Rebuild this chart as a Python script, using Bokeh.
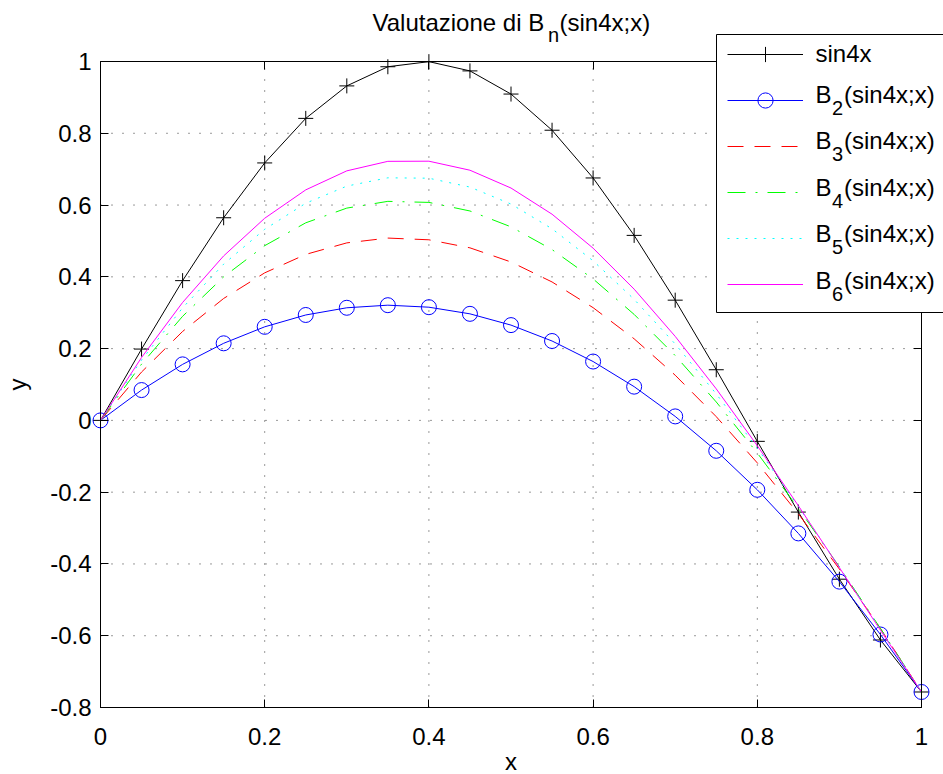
from bokeh.plotting import figure
from bokeh.models import (Range1d, LinearAxis, FixedTicker, Legend, LegendItem, Label, Grid,
                          BoxAnnotation)
from bokeh.embed import file_html
from bokeh.resources import INLINE

# ---------------- data ----------------
x_vals = [0.00, 0.05, 0.10, 0.15, 0.20, 0.25, 0.30, 0.35, 0.40, 0.45, 0.50,
          0.55, 0.60, 0.65, 0.70, 0.75, 0.80, 0.85, 0.90, 0.95, 1.00]
sin4x = [0.0000, 0.1987, 0.3894, 0.5646, 0.7174, 0.8415, 0.9320, 0.9854, 0.9996, 0.9738, 0.9093,
         0.8085, 0.6755, 0.5155, 0.3350, 0.1411, -0.0584, -0.2555, -0.4425, -0.6119, -0.7568]
b2 = [0.0000, 0.0845, 0.1561, 0.2148, 0.2607, 0.2937, 0.3138, 0.3210, 0.3154, 0.2969, 0.2655,
      0.2212, 0.1640, 0.0940, 0.0111, -0.0847, -0.1934, -0.3149, -0.4493, -0.5966, -0.7568]
b3 = [0.0000, 0.1347, 0.2478, 0.3397, 0.4111, 0.4625, 0.4946, 0.5080, 0.5032, 0.4808, 0.4414,
      0.3857, 0.3141, 0.2273, 0.1259, 0.0104, -0.1185, -0.2603, -0.4143, -0.5800, -0.7568]
b4 = [0.0000, 0.1567, 0.2900, 0.4000, 0.4868, 0.5505, 0.5915, 0.6103, 0.6074, 0.5835, 0.5393,
      0.4759, 0.3942, 0.2953, 0.1806, 0.0513, -0.0910, -0.2447, -0.4082, -0.5795, -0.7568]
b5 = [0.0000, 0.1683, 0.3136, 0.4353, 0.5325, 0.6051, 0.6528, 0.6759, 0.6748, 0.6501, 0.6028,
      0.5339, 0.4447, 0.3373, 0.2129, 0.0738, -0.0778, -0.2394, -0.4085, -0.5821, -0.7568]
b6 = [0.0000, 0.1752, 0.3286, 0.4583, 0.5632, 0.6423, 0.6953, 0.7218, 0.7222, 0.6971, 0.6474,
      0.5745, 0.4799, 0.3657, 0.2341, 0.0878, -0.0706, -0.2377, -0.4103, -0.5846, -0.7568]

x_ticks = [0, 0.2, 0.4, 0.6, 0.8, 1]
x_tick_labels = ["0", "0.2", "0.4", "0.6", "0.8", "1"]
y_ticks = [-0.8, -0.6, -0.4, -0.2, 0, 0.2, 0.4, 0.6, 0.8, 1]
y_tick_labels = ["-0.8", "-0.6", "-0.4", "-0.2", "0", "0.2", "0.4", "0.6", "0.8", "1"]

title_parts = ["Valutazione di B", "n", "(sin4x;x)"]
legend_main = ["sin4x", "B", "B", "B", "B", "B"]
legend_sub = ["", "2", "3", "4", "5", "6"]
legend_rest = ["", "(sin4x;x)", "(sin4x;x)", "(sin4x;x)", "(sin4x;x)", "(sin4x;x)"]

# ---------------- layout constants (pixels on the page) ----------------
FONT = "Liberation Sans"
FS = "24px"
SUBFS = "20px"
W, H = 943, 774
AX_L, AX_R, AX_T, AX_B = 100, 921, 61, 707      # visible axes box; the Bokeh frame is the whole canvas
X0, X1 = x_ticks[0], x_ticks[-1]
Y0, Y1 = y_ticks[0], y_ticks[-1]
px_x = (AX_R - AX_L) / (X1 - X0)
px_y = (AX_B - AX_T) / (Y1 - Y0)
TXT_DY = 8          # Label baseline correction (page px)
LEG_DY = 4          # legend row correction (page px)

p = figure(width=W, height=H, output_backend="svg", toolbar_location=None, title=None,
           x_range=Range1d(X0 - AX_L / px_x, X1 + (W - AX_R) / px_x),
           y_range=Range1d(Y0 - (H - AX_B) / px_y, Y1 + AX_T / px_y),
           x_axis_location=None, y_axis_location=None)
p.min_border = 0
p.min_border_left = 0
p.min_border_right = 0
p.min_border_top = 0
p.min_border_bottom = 0
p.background_fill_color = "white"
p.border_fill_color = "white"
p.outline_line_color = None
p.center = [r for r in p.center if not isinstance(r, Grid)]


def style_axis(ax, ticks, labels):
    ax.ticker = FixedTicker(ticks=ticks)
    ax.major_tick_in = 8
    ax.major_tick_out = 0
    ax.minor_tick_in = 0
    ax.minor_tick_out = 0
    ax.axis_line_color = "black"
    ax.axis_line_width = 1
    ax.major_tick_line_color = "black"
    ax.major_tick_line_width = 1
    ax.major_label_text_font = FONT
    ax.major_label_text_color = "black"
    ax.axis_label_text_font = FONT
    ax.axis_label_text_font_size = FS
    ax.axis_label_text_font_style = "normal"
    ax.axis_label_text_color = "black"
    if labels is None:
        ax.major_label_overrides = {v: "" for v in ticks}
        ax.major_label_text_font_size = "0px"
        ax.major_label_standoff = 0
    else:
        ax.major_label_overrides = {v: s for v, s in zip(ticks, labels)}
        ax.major_label_text_font_size = FS


bottom = LinearAxis(fixed_location=Y0, bounds=(X0, X1), axis_label="x")
style_axis(bottom, x_ticks, x_tick_labels)
bottom.major_label_standoff = 20
bottom.axis_label_standoff = 0
left = LinearAxis(fixed_location=X0, bounds=(Y0, Y1), axis_label="y")
style_axis(left, y_ticks, y_tick_labels)
left.major_label_standoff = 9
left.axis_label_standoff = 16
top = LinearAxis(fixed_location=Y1, bounds=(X0, X1))
style_axis(top, x_ticks, None)
right = LinearAxis(fixed_location=X1, bounds=(Y0, Y1))
style_axis(right, y_ticks, None)
p.add_layout(bottom, "below")
p.add_layout(left, "left")
p.add_layout(top, "above")
p.add_layout(right, "right")

# dotted grid, limited to the axes box
GRID = dict(line_color="black", line_dash="1 10", line_width=1, line_alpha=0.8, level="underlay")
p.segment(x0=x_ticks, y0=[Y0] * len(x_ticks), x1=x_ticks, y1=[Y1] * len(x_ticks), **GRID)
p.segment(x0=[X0] * len(y_ticks), y0=y_ticks, x1=[X1] * len(y_ticks), y1=y_ticks, **GRID)

# ---------------- series ----------------
r0l = p.line(x_vals, sin4x, line_color="black", line_width=1)
r0m = p.scatter(x_vals, sin4x, marker="cross", size=15, line_color="black", line_width=1)
r1l = p.line(x_vals, b2, line_color="#0000ff", line_width=1)
r1m = p.scatter(x_vals, b2, marker="circle", size=15, line_color="#0000ff", line_width=1,
                fill_color=None)
r2 = p.line(x_vals, b3, line_color="#ff0000", line_width=1, line_dash="16 11")
r3 = p.line(x_vals, b4, line_color="#00ff00", line_width=1, line_dash="18 10 2 10")
r4 = p.line(x_vals, b5, line_color="#00ffff", line_width=1, line_dash="2 7")
r5 = p.line(x_vals, b6, line_color="#ff00ff", line_width=1)

# ---------------- legend ----------------
LEG_L, LEG_T, LEG_B, LEG_R = 716, 34, 312, 1000
p.add_layout(BoxAnnotation(left=LEG_L, right=LEG_R, top=H - LEG_T, bottom=H - LEG_B,
                           left_units="screen", right_units="screen",
                           top_units="screen", bottom_units="screen",
                           fill_color="white", fill_alpha=1.0,
                           line_color="black", line_width=1, line_alpha=1.0))

items = [LegendItem(label=" ", renderers=[r0l, r0m]),
         LegendItem(label=" ", renderers=[r1l, r1m]),
         LegendItem(label=" ", renderers=[r2]),
         LegendItem(label=" ", renderers=[r3]),
         LegendItem(label=" ", renderers=[r4]),
         LegendItem(label=" ", renderers=[r5])]
PAD, GH, SP, GW = 4, 38, 8, 76
GLYPH_X = 731
ROW0 = 54 - LEG_DY
leg_top = ROW0 - PAD - GH / 2
leg_h = 2 * PAD + 6 * GH + 5 * SP
legend = Legend(items=items, location=(GLYPH_X - PAD, H - (leg_top + leg_h)),
                orientation="vertical", padding=PAD, spacing=SP, margin=0,
                glyph_width=GW, glyph_height=GH, label_height=GH, label_width=20,
                label_standoff=4, label_text_font_size="10px",
                border_line_color=None, background_fill_alpha=0.0)
p.add_layout(legend, "center")


def add_text(txt, px, py, size):
    p.add_layout(Label(x=px, y=H - (py - TXT_DY), x_units="screen", y_units="screen",
                       text=txt, text_font=FONT, text_font_size=size, text_color="black",
                       text_align="left", text_baseline="alphabetic", level="overlay"))


ref_rows = [57, 98, 144, 191, 237, 284]
text_x = 815
for k in range(6):
    base = ref_rows[k] + 4
    add_text(legend_main[k], text_x, base, FS)
    if legend_sub[k]:
        add_text(legend_sub[k], text_x + 16.5, base + 13, SUBFS)
        add_text(legend_rest[k], text_x + 28.5, base, FS)

# ---------------- title ----------------
t_start = 372
add_text(title_parts[0], t_start, 30, FS)
add_text(title_parts[1], t_start + 175.5, 42.5, SUBFS)
add_text(title_parts[2], t_start + 187, 30, FS)

open("out.html", "w").write(file_html(p, INLINE))
